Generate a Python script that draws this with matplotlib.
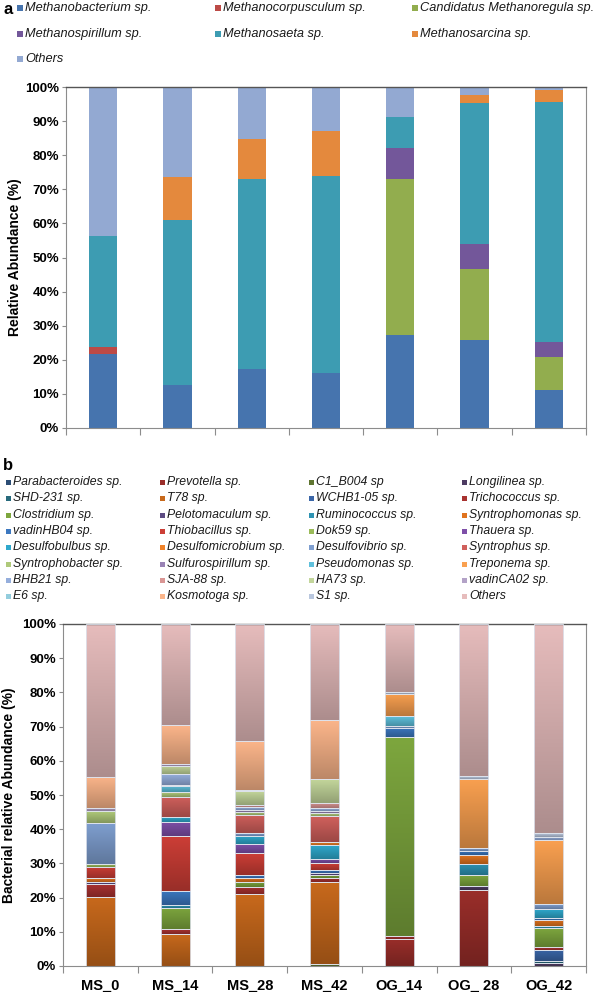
import numpy as np
import matplotlib
matplotlib.use('Agg')
import matplotlib.pyplot as plt  # noqa: E402
from matplotlib.colors import LinearSegmentedColormap, to_rgb  # noqa: E402
from matplotlib.patches import Rectangle  # noqa: E402

# ====== data ======
SAMPLES = ['MS_0', 'MS_14', 'MS_28', 'MS_42', 'OG_14', 'OG_ 28', 'OG_42']

# panel a: methanogens (%)
TAXA_A = ['Methanobacterium sp.', 'Methanocorpusculum sp.', 'Candidatus Methanoregula sp.',
          'Methanospirillum sp.', 'Methanosaeta sp.', 'Methanosarcina sp.', 'Others']
methanobacterium = [21.8, 12.5, 17.2, 16.0, 27.4, 25.7, 11.0]
methanocorpusculum = [1.9, 0, 0, 0, 0, 0, 0]
candidatus_methanoregula = [0, 0, 0, 0, 45.5, 20.8, 9.9]
methanospirillum = [0, 0, 0, 0, 9.1, 7.5, 4.3]
methanosaeta = [32.5, 48.6, 55.7, 57.8, 9.1, 41.2, 70.3]
methanosarcina = [0, 12.4, 11.9, 13.2, 0, 2.4, 3.5]
others_a = [43.8, 26.5, 15.2, 13.0, 8.9, 2.4, 1.0]
COLORS_A = ['#4674AE', '#BC4A46', '#92AD4E', '#73579A', '#3D9CB2', '#E4893D', '#93A9D2']

# panel b: bacteria (%), legend order = stacking order
TAXA_B = ['Parabacteroides sp.', 'Prevotella sp.', 'C1_B004 sp', 'Longilinea sp.',
          'SHD-231 sp.', 'T78 sp.', 'WCHB1-05 sp.', 'Trichococcus sp.',
          'Clostridium sp.', 'Pelotomaculum sp.', 'Ruminococcus sp.', 'Syntrophomonas sp.',
          'vadinHB04 sp.', 'Thiobacillus sp.', 'Dok59 sp.', 'Thauera sp.',
          'Desulfobulbus sp.', 'Desulfomicrobium sp.', 'Desulfovibrio sp.', 'Syntrophus sp.',
          'Syntrophobacter sp.', 'Sulfurospirillum sp.', 'Pseudomonas sp.', 'Treponema sp.',
          'BHB21 sp.', 'SJA-88 sp.', 'HA73 sp.', 'vadinCA02 sp.',
          'E6 sp.', 'Kosmotoga sp.', 'S1 sp.', 'Others']
ms_0 = [0, 0, 0, 0, 0, 20.3, 0, 3.8,
        0, 0.5, 0, 1.0, 0, 3.4, 0.8, 0,
        0, 0, 12.0, 0, 3.4, 0, 0, 0,
        0, 0, 0, 1.0, 0, 9.2, 0, 44.6]
ms_14 = [0, 0, 0, 0, 0, 9.5, 0, 1.3,
         6.2, 0, 0.8, 0, 4.1, 16.0, 0, 4.1,
         1.6, 0, 0, 5.9, 1.3, 0, 1.8, 0.4,
         3.0, 0, 2.5, 0.6, 0, 11.4, 0, 29.5]
ms_28 = [0, 0, 0, 0, 0, 21.0, 0, 2.1,
         1.5, 0, 0, 1.2, 0.8, 6.4, 0, 2.6,
         2.4, 0, 0.8, 5.4, 0.7, 0.7, 0, 0,
         0.8, 0.8, 3.9, 0.5, 0, 14.3, 0, 34.1]
ms_42 = [0, 0, 0.5, 0, 0, 24.1, 0, 1.2,
         0.9, 0.6, 0, 0, 0.9, 2.0, 0, 1.2,
         4.0, 1.0, 0, 7.4, 0.8, 0.8, 0, 0,
         0.8, 1.5, 6.9, 0, 0, 17.2, 0, 28.2]
og_14 = [0, 7.9, 0, 0, 0, 0, 0, 1.0,
         58.0, 0, 0, 0, 2.7, 0, 0, 0,
         0, 0, 0.6, 0, 0, 0, 2.9, 6.5,
         0, 0, 0, 0, 0, 0, 0.6, 19.8]
og_28 = [0, 22.3, 0, 1.0, 0, 0, 0, 0,
         3.2, 0, 3.3, 2.6, 1.3, 0, 0, 0,
         0, 0, 0.8, 0, 0, 0, 0, 20.3,
         0, 0, 0, 0, 0, 0, 0.7, 44.5]
og_42 = [0, 0, 0, 0.8, 0.6, 0, 3.4, 0.7,
         5.5, 0, 0.6, 1.9, 0.6, 0, 0, 0,
         2.6, 0, 1.3, 0, 0, 0, 0, 18.7,
         1.0, 0, 0, 0, 0, 0, 1.1, 61.2]
COLORS_B = ['#2C4D75', '#9A2E2A', '#5F7530', '#4D3B62', '#276A7C', '#C8691C',
            '#3A66A8', '#A83230', '#7DA63E', '#5C4A82', '#2E93B3', '#E0731E',
            '#3C78C0', '#CC3E36', '#9BBB59', '#7E4FA8', '#2FA8CC', '#F08228',
            '#7F9FD0', '#D0605C', '#AFC97A', '#9983B5', '#5FC0DC', '#F9A050',
            '#95AEDC', '#D99694', '#C3D69B', '#B3A2C7', '#93CDDD', '#FBB58A',
            '#B9C7DE', '#E6BCBC']

W, H = 596, 992


def fx(px):
    return px / W


def fy(py):
    return 1 - py / H


def style_axes(ax, labels=None):
    ax.set_xlim(-0.5, len(SAMPLES) - 0.5)
    ax.set_ylim(0, 100)
    for side in ['left', 'right', 'bottom']:
        ax.spines[side].set_color('#8c8c8c')
        ax.spines[side].set_linewidth(0.8)
    ax.spines['top'].set_color('#555555')
    ax.spines['top'].set_linewidth(1.0)
    ax.set_yticks(range(0, 101, 10))
    ax.set_yticklabels([f'{v}%' for v in range(0, 101, 10)], fontsize=9.5, fontweight='bold')
    ax.tick_params(axis='y', length=3, color='#8c8c8c', pad=2)
    ax.set_xticks(np.arange(-0.5, len(SAMPLES), 1))
    ax.set_xticklabels([])
    ax.tick_params(axis='x', which='major', length=5, color='#8c8c8c')
    if labels is not None:
        ax.set_xticks(np.arange(len(SAMPLES)), minor=True)
        ax.set_xticklabels(labels, minor=True, fontsize=10.5, fontweight='bold')
        ax.tick_params(axis='x', which='minor', length=0, pad=9)


def shade(ax, patch, color):
    """세그먼트마다 위(밝게) -> 아래(어둡게) 그라데이션."""
    x, y = patch.get_x(), patch.get_y()
    w, h = patch.get_width(), patch.get_height()
    base = np.array(to_rgb(color))
    cmap = LinearSegmentedColormap.from_list('g', [base * 0.75, base])
    grad = np.linspace(0, 1, 64).reshape(-1, 1)
    ax.imshow(grad, extent=[x, x + w, y, y + h], origin='lower', aspect='auto',
              cmap=cmap, zorder=2, interpolation='bilinear')


def legend_block(fig, names, colors, cols_x, rows_y, fs, sq):
    ncol = len(cols_x)
    for i, (name, c) in enumerate(zip(names, colors)):
        x = cols_x[i % ncol]
        y = rows_y[i // ncol]
        fig.add_artist(Rectangle((fx(x), fy(y + sq / 2)), sq / W, sq / H,
                                 transform=fig.transFigure, facecolor=c, edgecolor='none'))
        fig.text(fx(x + sq + 2), fy(y), name, fontsize=fs, style='italic',
                 va='center', ha='left', color='#1a1a1a')


def main():
    plt.rcParams['font.family'] = ['Liberation Sans', 'DejaVu Sans']
    fig = plt.figure(figsize=(W / 100, H / 100), dpi=100)

    # ---- panel a ----
    ax_a = fig.add_axes([fx(66), fy(428), fx(586) - fx(66), fy(87) - fy(428)])
    series_a = [methanobacterium, methanocorpusculum, candidatus_methanoregula,
                methanospirillum, methanosaeta, methanosarcina, others_a]
    x = np.arange(len(SAMPLES))
    bottom = np.zeros(len(SAMPLES))
    for vals, c in zip(series_a, COLORS_A):
        v = np.array(vals, dtype=float)
        ax_a.bar(x, v, width=0.38, bottom=bottom, color=c, linewidth=0, zorder=2)
        bottom += v
    style_axes(ax_a)
    fig.text(fx(15), (fy(87) + fy(428)) / 2, 'Relative Abundance (%)', rotation=90,
             fontsize=10, fontweight='bold', va='center', ha='center')

    fig.text(fx(3), fy(9), 'a', fontsize=12, fontweight='bold', va='center')
    legend_block(fig, TAXA_A, COLORS_A, [17, 215, 412], [8, 34, 59], 9.2, 6)

    # ---- panel b ----
    ax_b = fig.add_axes([fx(63), fy(966), fx(586) - fx(63), fy(624) - fy(966)])
    series_b = np.array([ms_0, ms_14, ms_28, ms_42, og_14, og_28, og_42], dtype=float).T
    bottom = np.zeros(len(SAMPLES))
    for vals, c in zip(series_b, COLORS_B):
        nz = vals > 0
        bars = ax_b.bar(x[nz], vals[nz], width=0.39, bottom=bottom[nz], facecolor='none',
                        edgecolor=(0.87, 0.89, 0.93), linewidth=0.6, zorder=3)
        for p in bars.patches:
            shade(ax_b, p, c)
        bottom += vals
    style_axes(ax_b, SAMPLES)
    fig.text(fx(9), (fy(624) + fy(966)) / 2, 'Bacterial relative Abundance (%)', rotation=90,
             fontsize=10, fontweight='bold', va='center', ha='center')

    fig.text(fx(3), fy(465), 'b', fontsize=12, fontweight='bold', va='center')
    legend_block(fig, TAXA_B, COLORS_B, [6, 160, 309, 462],
                 [482, 498, 515, 531, 547, 564, 580, 596], 8.8, 5)

    fig.savefig('out.png', dpi=100)
    plt.close(fig)


if __name__ == '__main__':
    main()
